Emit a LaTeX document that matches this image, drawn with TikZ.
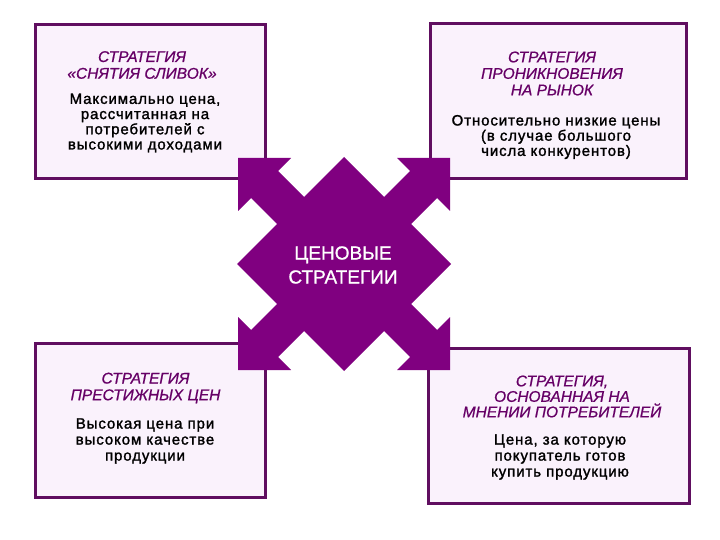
\documentclass[tikz,border=0pt]{standalone}
\usepackage{fontspec}
\setmainfont{Liberation Sans}
\definecolor{boxline}{RGB}{96,14,96}
\definecolor{boxfill}{RGB}{250,242,252}
\definecolor{arrowfill}{RGB}{128,0,128}
\definecolor{titlecol}{RGB}{102,0,102}
\tikzset{
  stratbox/.style={draw=boxline, fill=boxfill, line width=3pt},
  titletext/.style={inner sep=0pt, align=center, text=titlecol,
    font=\fontsize{15.5}{16.7}\selectfont\itshape\addfontfeature{FakeBold=0.8}},
  bodytext/.style={inner sep=0pt, align=center, text=black,
    font=\fontsize{15}{15.2}\selectfont\addfontfeature{LetterSpace=6,FakeBold=1.5}},
  centertext/.style={inner sep=0pt, align=center, text=white,
    font=\fontsize{19}{24}\selectfont\addfontfeature{FakeBold=1}}
}
\begin{document}
\begin{tikzpicture}[x=1pt,y=-1pt]
\useasboundingbox (0,0) rectangle (720,540);
\fill[white] (0,0) rectangle (720,540);
% boxes
\draw[stratbox] (35,25) rectangle (265,179);
\draw[stratbox] (430,24) rectangle (686,179);
\draw[stratbox] (35,343) rectangle (265,497);
\draw[stratbox] (428,348) rectangle (689,503);
% texts
\node[titletext] (t1) at (142,65) {СТРАТЕГИЯ\\«СНЯТИЯ СЛИВОК»};
\node[bodytext] (d1) at (145,123) {Максимально цена,\\рассчитанная на\\потребителей с\\высокими доходами};
\node[titletext, font=\fontsize{15.5}{16.5}\selectfont\itshape\addfontfeature{FakeBold=0.8}] (t2) at (552,73.5) {СТРАТЕГИЯ\\ПРОНИКНОВЕНИЯ\\НА РЫНОК};
\node[bodytext] (d2) at (556,137) {Относительно низкие цены\\(в случае большого\\числа конкурентов)};
\node[titletext] (t3) at (145.5,388) {СТРАТЕГИЯ\\ПРЕСТИЖНЫХ ЦЕН};
\node[bodytext, font=\fontsize{15}{16}\selectfont\addfontfeature{LetterSpace=6,FakeBold=1.5}] (d3) at (145,441) {Высокая цена при\\высоком качестве\\продукции};
\node[titletext, font=\fontsize{15.5}{15.5}\selectfont\itshape\addfontfeature{FakeBold=0.8}] (t4) at (562,396.5) {СТРАТЕГИЯ,\\ОСНОВАННАЯ НА\\МНЕНИИ ПОТРЕБИТЕЛЕЙ};
\node[bodytext, font=\fontsize{15}{16}\selectfont\addfontfeature{LetterSpace=6,FakeBold=1.5}] (d4) at (560,457) {Цена, за которую\\покупатель готов\\купить продукцию};
% central four-arrow shape
\begin{scope}[shift={(344,264)}]
\fill[arrowfill] (0,-107)
  -- (40,-67) -- (66,-93) -- (53,-106) -- (106,-106) -- (106,-53) -- (93,-66) -- (67,-40) -- (107,0)
  -- (67,40) -- (93,66) -- (106,53) -- (106,106) -- (53,106) -- (66,93) -- (40,67) -- (0,107)
  -- (-40,67) -- (-66,93) -- (-53,106) -- (-106,106) -- (-106,53) -- (-93,66) -- (-67,40) -- (-107,0)
  -- (-67,-40) -- (-93,-66) -- (-106,-53) -- (-106,-106) -- (-53,-106) -- (-66,-93) -- (-40,-67) -- cycle;
\end{scope}
\node[centertext] (c) at (343,265) {ЦЕНОВЫЕ\\СТРАТЕГИИ};
\end{tikzpicture}
\end{document}
